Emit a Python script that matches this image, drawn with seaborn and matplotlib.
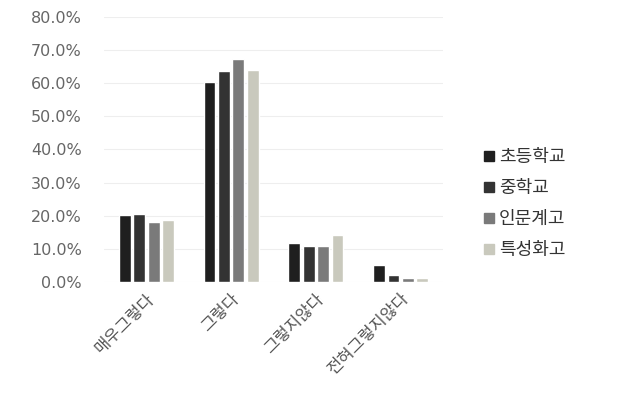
import matplotlib
matplotlib.use("Agg")
import matplotlib.pyplot as plt
import seaborn as sns
import pandas as pd
from matplotlib.ticker import FuncFormatter, MultipleLocator
from matplotlib.lines import Line2D

categories = ["매우그렇다", "그렇다", "그렇지않다", "전혀그렇지않다"]
series_names = ["초등학교", "중학교", "인문계고", "특성화고"]
elem = [20.3, 60.3, 11.9, 5.1]
middle = [20.6, 63.6, 11.0, 2.1]
humanities = [18.2, 67.3, 11.0, 1.2]
special = [18.6, 63.9, 14.3, 1.1]
colors = ["#1f1f1f", "#333333", "#7a7a7a", "#c9c9bd"]

rows = []
for name, vals in zip(series_names, [elem, middle, humanities, special]):
    for c, v in zip(categories, vals):
        rows.append({"cat": c, "school": name, "val": v})
df = pd.DataFrame(rows)

sns.set_theme(style="white")
plt.rcParams['font.family'] = ['Noto Sans CJK KR', 'DejaVu Sans']

fig = plt.figure(figsize=(6.17, 3.94), dpi=100)
ax = fig.add_axes([0.1686, 0.2843, 0.5494, 0.6733])
sns.barplot(data=df, x="cat", y="val", hue="school", order=categories,
            hue_order=series_names, palette=colors, width=0.68, gap=0.18,
            ax=ax, legend=False, saturation=1)

ax.set_ylim(0, 80)
ax.yaxis.set_major_locator(MultipleLocator(10))
ax.yaxis.set_major_formatter(FuncFormatter(lambda v, p: f"{v:.1f}%"))
ax.grid(axis="y", color="#eeeeee", linewidth=0.8)
ax.set_axisbelow(True)
for s in ax.spines.values():
    s.set_visible(False)
ax.set_xlabel("")
ax.set_ylabel("")
ax.tick_params(axis="y", labelsize=11.5, labelcolor="#666666", pad=16,
               length=0)
for lab in ax.get_yticklabels():
    lab.set_family(['DejaVu Sans'])
ax.tick_params(axis="x", length=0, pad=6)
ax.set_xticks(range(len(categories)))
ax.set_xticklabels(categories, rotation=45, ha="right",
                   rotation_mode="anchor", fontsize=12, color="#555555")

handles = [Line2D([0], [0], marker="s", linestyle="none", markersize=7,
                  markerfacecolor=c, markeredgecolor=c) for c in colors]
fig.legend(handles, series_names, loc="upper left",
           bbox_to_anchor=(0.753, 0.665), frameon=False, fontsize=13,
           labelcolor="#333333", handletextpad=0.1, labelspacing=0.72,
           handlelength=0.9)

fig.savefig("out.png", dpi=100, facecolor="white")
